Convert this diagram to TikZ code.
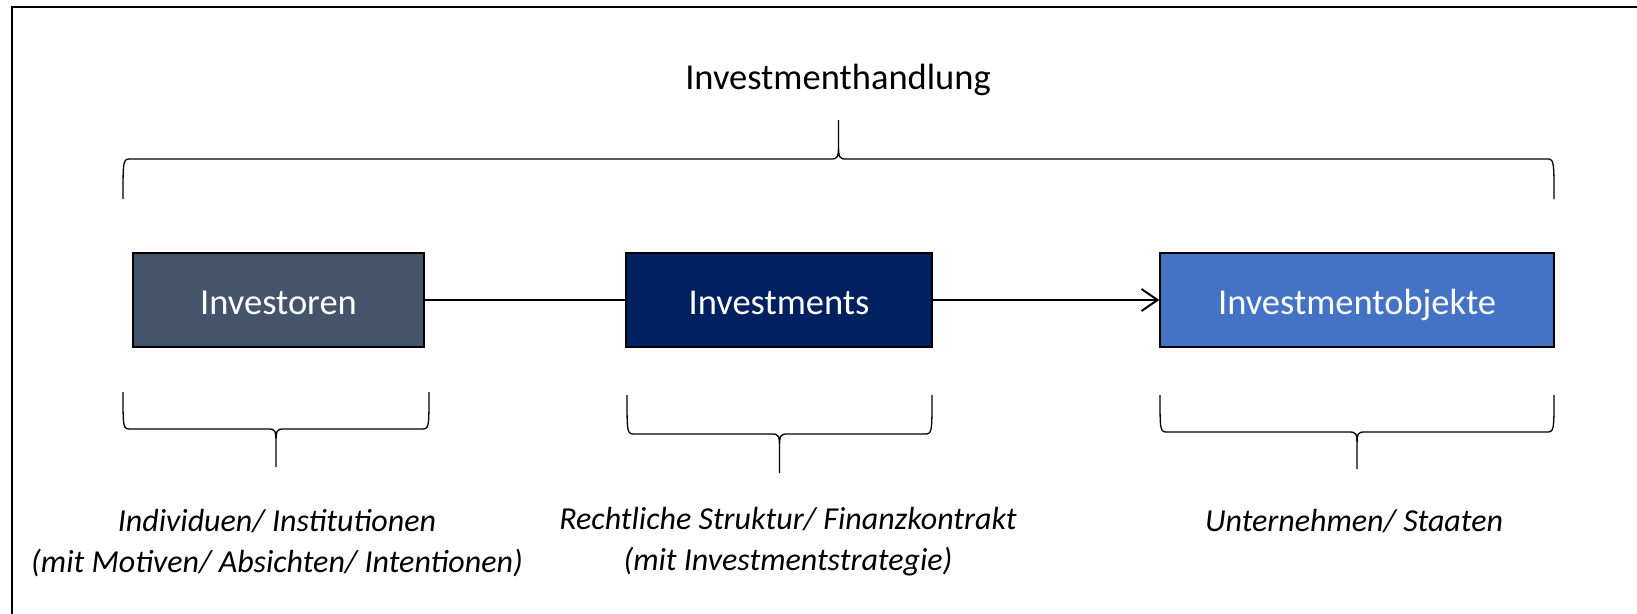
\documentclass[tikz,border=0pt]{standalone}
\usepackage{fontspec}
\setmainfont{Carlito}
\usetikzlibrary{arrows.meta}

\definecolor{investorgray}{HTML}{44546A}
\definecolor{investnavy}{HTML}{002060}
\definecolor{objectblue}{HTML}{4472C4}

% curly brace the way the slide draws it: left x, right x, arm y, line y, tip y
\newcommand{\officebrace}[5]{%
  \pgfmathsetmacro{\bmid}{(#1+#2)/2}%
  \pgfmathsetmacro{\bknee}{(#4+#5)/2}%
  \draw [brace line] (#1,#3) .. controls (#1,#4) and (#1,#4) .. (#1+8,#4)
    -- (\bmid-9,#4) .. controls (\bmid,#4) and (\bmid,#4) .. (\bmid,\bknee) -- (\bmid,#5)
    (\bmid,\bknee) .. controls (\bmid,#4) and (\bmid,#4) .. (\bmid+9,#4)
    -- (#2-8,#4) .. controls (#2,#4) and (#2,#4) .. (#2,#3);%
}

\begin{document}
\begin{tikzpicture}[x=1pt, y=-1pt,
    box/.style={draw=black, line width=1.5pt, minimum width=#1, minimum height=94pt,
      inner sep=0pt, text height=29.5pt, text depth=0pt, text=white,
      font=\fontsize{36.5}{44}\selectfont},
    title text/.style={inner sep=0pt, font=\fontsize{36.5}{44}\selectfont},
    desc text/.style={inner sep=0pt, align=center, font=\fontsize{32}{41}\selectfont\itshape},
    brace line/.style={line width=1.3pt},
    flow/.style={line width=2pt}]
  \useasboundingbox (0,0) rectangle (1637,613);
  \draw [line width=2pt] (12,625) -- (12,7) -- (1650,7);

  \node [title text] (handlung) at (838,80) {Investmenthandlung};
  \officebrace{123}{1554}{199}{159}{120}

  \node [box=291pt, fill=investorgray] (investoren) at (278.5,300) {Investoren};
  \node [box=306pt, fill=investnavy] (investments) at (779,300) {Investments};
  \node [box=394pt, fill=objectblue] (objekte) at (1357,300) {Investmentobjekte};
  \draw [flow] (investoren) -- (investments);
  \draw [flow, -{Straight Barb[length=16pt,width=22pt]}] (investments) -- (objekte);

  \officebrace{123}{429}{392}{429}{467}
  \officebrace{627}{932}{395}{434}{473}
  \officebrace{1160}{1554}{395}{432}{469}

  \node [desc text] (akteure) at (277,543) {Individuen/ Institutionen\\(mit Motiven/ Absichten/ Intentionen)};
  \node [desc text] (vertrag) at (788,542) {Rechtliche Struktur/ Finanzkontrakt\\(mit Investmentstrategie)};
  \node [desc text] (objektarten) at (1354,521) {Unternehmen/ Staaten};
\end{tikzpicture}
\end{document}
